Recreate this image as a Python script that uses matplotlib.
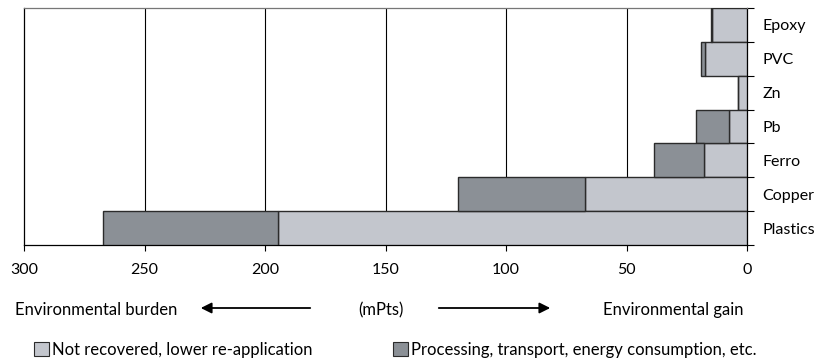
import matplotlib.pyplot as plt
import numpy as np
from matplotlib.patches import Patch, FancyArrowPatch

plt.rcParams['font.family'] = ['Lato', 'DejaVu Sans']

# Data (mPts), listed top to bottom
categories = ['Epoxy', 'PVC', 'Zn', 'Pb', 'Ferro', 'Copper', 'Plastics']
not_recovered = [14.5, 17.6, 3.9, 7.3, 17.7, 67.2, 194.4]
processing = [0.6, 1.4, 0.0, 14.0, 20.8, 52.8, 72.9]
x_ticks = [300, 250, 200, 150, 100, 50, 0]

light = '#c3c6cd'
dark = '#8b9096'
edge = '#2b2b2b'

fig = plt.figure(figsize=(8.17, 3.63), dpi=100)
ax = fig.add_axes([24 / 817, 1 - 245 / 363, 723 / 817, 237 / 363])

y = np.arange(len(categories))
ax.barh(y, not_recovered, height=1.0, color=light, edgecolor=edge,
        linewidth=1.0, zorder=3)
ax.barh(y, processing, left=not_recovered, height=1.0, color=dark,
        edgecolor=edge, linewidth=1.0, zorder=3)

ax.set_xlim(300, 0)
ax.set_ylim(len(categories) - 0.5, -0.5)

# vertical gridlines
for v in x_ticks[1:-1]:
    ax.axvline(v, color='black', linewidth=0.8, zorder=1)

ax.set_xticks(x_ticks)
ax.set_xticklabels([str(t) for t in x_ticks], fontsize=11.5)
ax.tick_params(axis='x', direction='out', length=4, pad=9, width=0.8)

# category labels on the right, tick marks at category boundaries
ax.yaxis.tick_right()
ax.set_yticks(np.arange(-0.5, len(categories), 1.0))
ax.set_yticklabels([])
ax.set_yticks(y, minor=True)
ax.set_yticklabels(categories, minor=True, fontsize=11.5)
ax.tick_params(axis='y', which='major', direction='out', length=5, width=0.8)
ax.tick_params(axis='y', which='minor', length=0, pad=11)
for lbl in ax.get_yticklabels(minor=True):
    lbl.set_horizontalalignment('left')

for s in ['left', 'bottom', 'right']:
    ax.spines[s].set_color('black')
    ax.spines[s].set_linewidth(0.9)
ax.spines['top'].set_color('#777777')
ax.spines['top'].set_linewidth(0.9)

# axis annotation with arrows
fig.text(15 / 817, 1 - 310 / 363, 'Environmental burden', fontsize=12,
         va='center', ha='left')
fig.text(381 / 817, 1 - 310 / 363, '(mPts)', fontsize=12,
         va='center', ha='center')
fig.text(603 / 817, 1 - 310 / 363, 'Environmental gain', fontsize=12,
         va='center', ha='left')
fig.patches.append(FancyArrowPatch(
    (313 / 817, 1 - 308 / 363), (198 / 817, 1 - 308 / 363),
    transform=fig.transFigure, arrowstyle='-|>', mutation_scale=16,
    color='black', linewidth=1.3))
fig.patches.append(FancyArrowPatch(
    (436 / 817, 1 - 308 / 363), (553 / 817, 1 - 308 / 363),
    transform=fig.transFigure, arrowstyle='-|>', mutation_scale=16,
    color='black', linewidth=1.3))

# legend
handles = [Patch(facecolor=light, edgecolor=edge, linewidth=0.8),
           Patch(facecolor=dark, edgecolor=edge, linewidth=0.8)]
fig.legend(handles[:1], ['Not recovered, lower re-application'],
           loc='center left', bbox_to_anchor=(34 / 817, 1 - 350 / 363),
           frameon=False, fontsize=12, handlelength=0.9, handleheight=0.9,
           handletextpad=0.2, borderpad=0, borderaxespad=0)
fig.legend(handles[1:], ['Processing, transport, energy consumption, etc.'],
           loc='center left', bbox_to_anchor=(393 / 817, 1 - 350 / 363),
           frameon=False, fontsize=12, handlelength=0.9, handleheight=0.9,
           handletextpad=0.2, borderpad=0, borderaxespad=0)

fig.savefig('out.png', dpi=100)
